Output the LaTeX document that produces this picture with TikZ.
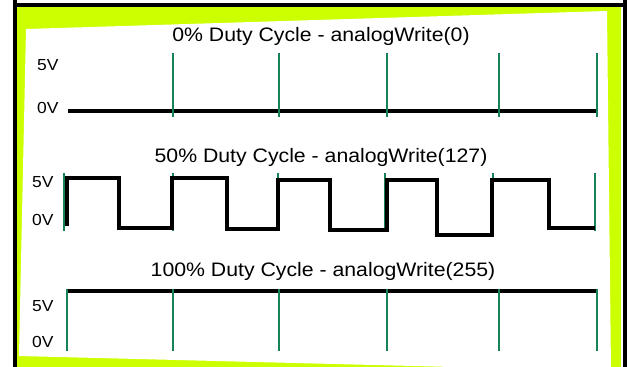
\documentclass[tikz,border=0pt]{standalone}
\usepackage{fontspec}
\setmainfont{Liberation Sans}
\usepackage{graphicx}
\definecolor{limeFrame}{RGB}{204,255,0}
\definecolor{greenPWM}{RGB}{22,130,85}
\newcommand{\wide}[1]{\scalebox{1.09}[1]{#1}}
\tikzset{
  wave/.style={line width=4pt},
  pulseTick/.style={greenPWM, line width=2.5pt},
  dutyTitle/.style={anchor=base, inner sep=0pt, font=\fontsize{19.5}{22}\selectfont},
  voltLabel/.style={anchor=base west, inner sep=0pt, font=\fontsize{16}{18}\selectfont}
}

\begin{document}
\begin{tikzpicture}[x=1pt, y=-1pt]
  \useasboundingbox (0,0) rectangle (627,367);

  % Marco
  \fill[limeFrame] (17,7) rectangle (621,367);
  \fill[white] (26,29) -- (607,11) -- (611,371) -- (19,356) -- cycle;
  \draw[line width=4pt] (13,5) -- (627,5);
  \draw[line width=4pt] (15,0) -- (15,367);
  \draw[line width=4pt] (624.5,0) -- (624.5,367);

  % 0% duty cycle
  \node[dutyTitle] (title0) at (321,41) {\wide{0\% Duty Cycle - analogWrite(0)}};
  \node[voltLabel] (high0) at (37,70) {\wide{5V}};
  \node[voltLabel] (low0) at (37,113) {\wide{0V}};
  \draw[wave] (68,111) -- (597,111);
  \foreach \x in {173,279,387,499,597}
    \draw[pulseTick] (\x,53) -- (\x,117);

  % 50% duty cycle
  \node[dutyTitle] (title50) at (321,162) {\wide{50\% Duty Cycle - analogWrite(127)}};
  \node[voltLabel] (high50) at (32,187) {\wide{5V}};
  \node[voltLabel] (low50) at (32,225) {\wide{0V}};
  \foreach \x in {64,173,278,385,493,595}
    \draw[pulseTick] (\x,173) -- (\x,231);
  \draw[wave] (67,226) -- (67,178) -- (119,178) -- (119,228) -- (172,228)
    -- (172,178) -- (227,178) -- (227,229) -- (278,229) -- (278,180)
    -- (330,180) -- (330,230) -- (387,230) -- (387,180) -- (437,180)
    -- (437,235) -- (492,235) -- (492,180) -- (549,180) -- (549,228) -- (595,228);

  % 100% duty cycle
  \node[dutyTitle] (title100) at (323,276) {\wide{100\% Duty Cycle - analogWrite(255)}};
  \node[voltLabel] (high100) at (32,311) {\wide{5V}};
  \node[voltLabel] (low100) at (32,347) {\wide{0V}};
  \draw[wave] (67,291) -- (597,291);
  \foreach \x in {67,173,279,387,499,597}
    \draw[pulseTick] (\x,289) -- (\x,351);
\end{tikzpicture}
\end{document}
